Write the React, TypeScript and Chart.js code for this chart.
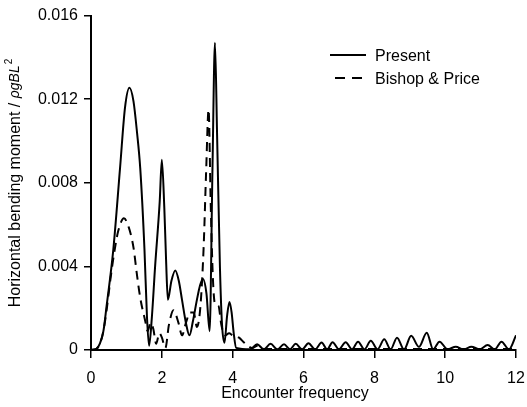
import React, { useEffect, useRef } from "react";
import { Chart, registerables } from "chart.js";

Chart.register(...registerables);

// ---- Data ----
const presentX = [
  0, 0.15, 0.25, 0.35, 0.44, 0.63, 0.82, 0.96, 1.085, 1.2, 1.3, 1.39, 1.51, 1.58, 1.64,
  1.72, 1.81, 1.94, 2.0, 2.07, 2.12, 2.17, 2.27, 2.38, 2.48, 2.57, 2.68, 2.78, 2.88, 2.99,
  3.08, 3.16, 3.26, 3.35, 3.43, 3.5, 3.56, 3.64, 3.7, 3.77, 3.84, 3.91, 3.97, 4.03, 4.1,
  4.5, 4.69, 4.88, 5.07, 5.26, 5.45, 5.62, 5.78, 5.96, 6.14, 6.33, 6.51, 6.67, 6.82, 7.0,
  7.19, 7.37, 7.54, 7.72, 7.9, 8.09, 8.28, 8.46, 8.64, 8.84, 9.04, 9.26, 9.48, 9.66, 9.84,
  10.07, 10.3, 10.52, 10.74, 10.97, 11.2, 11.4, 11.59, 11.8, 12.0,
];
const presentY = [
  0, 0.00005, 0.0003, 0.0009, 0.0021, 0.0048, 0.0087, 0.0116, 0.01255, 0.0119, 0.0104, 0.0087, 0.0048, 0.0016, 0.0002,
  0.0016, 0.004, 0.0071, 0.0091, 0.0068, 0.0043, 0.0024, 0.0033, 0.0038, 0.0033, 0.0024, 0.0013, 0.0007, 0.0014, 0.0024,
  0.0031, 0.0034, 0.0027, 0.0009, 0.0087, 0.0147, 0.0103, 0.004, 0.0012, 0.00035, 0.0016, 0.0023, 0.0018, 0.0008, 0.0001,
  0.00003, 0.00028, 0.00003, 0.0003, 0.00003, 0.00027, 0.00003, 0.0003, 0.00003, 0.00032, 0.00003, 0.00036, 0.00003, 0.00037, 0.00003,
  0.00037, 0.00003, 0.0004, 0.00003, 0.00044, 0.00003, 0.00051, 0.00003, 0.00059, 0.00003, 0.00068, 0.00015, 0.00082, 0.00003, 0.0004,
  0.00003, 0.00016, 0.00003, 0.00016, 0.00003, 0.00024, 0.00003, 0.0004, 0.00003, 0.0007,
];

const bishopX = [
  0, 0.15, 0.25, 0.35, 0.44, 0.55, 0.65, 0.77, 0.93, 1.06, 1.2, 1.29, 1.39, 1.53, 1.6,
  1.68, 1.76, 1.84, 1.93, 2.0, 2.1, 2.2, 2.33, 2.47, 2.57, 2.68, 2.8, 2.9, 2.99, 3.09,
  3.18, 3.25, 3.32, 3.38, 3.44, 3.5, 3.6, 3.68, 3.78, 3.9, 4.0, 4.17, 4.36, 4.55, 4.7,
  4.9, 6, 8, 10, 12,
];
const bishopY = [
  0, 0.00005, 0.0003, 0.0009, 0.0019, 0.0034, 0.0046, 0.0057, 0.0063, 0.0059, 0.0049, 0.0037, 0.0025, 0.0014, 0.0009,
  0.0013, 0.001, 0.0003, 0.0008, 0.0006, 0.0001, 0.0012, 0.0019, 0.0013, 0.0007, 0.0013, 0.0018, 0.0018, 0.0011, 0.0021,
  0.0049, 0.0085, 0.0115, 0.007, 0.0035, 0.0022, 0.0021, 0.0012, 0.0007, 0.0008, 0.0007, 0.0006, 0.0003, 0.0001, 0.0002,
  0.00005, 0.00005, 0.00005, 0.00005, 0.00005,
];

const seriesNames = ["Present", "Bishop & Price"];
const xTicks = [0, 2, 4, 6, 8, 10, 12];
const yTicks = [0, 0.004, 0.008, 0.012, 0.016];
const xTitle = "Encounter frequency";
const yTitleMain = "Horizontal bending moment / ";
const yTitleSym = "\u03C1gBL";
const yTitleSup = "2";

const FAMILY = "'Liberation Sans', Arial, Helvetica, sans-serif";

const toPoints = (xs: number[], ys: number[]) => xs.map((x, i) => ({ x, y: ys[i] }));

const annotPlugin = {
  id: "annot",
  afterDraw(chart: any) {
    const ctx: CanvasRenderingContext2D = chart.ctx;
    ctx.save();
    ctx.fillStyle = "#000";
    ctx.strokeStyle = "#000";

    // X axis title
    ctx.font = `16px ${FAMILY}`;
    ctx.textAlign = "center";
    ctx.textBaseline = "alphabetic";
    ctx.fillText(xTitle, 295, 398);

    // Y axis title (rotated, mixed styles)
    ctx.save();
    ctx.translate(20, 183);
    ctx.rotate(-Math.PI / 2);
    ctx.textBaseline = "alphabetic";
    ctx.textAlign = "left";
    const f1 = `16px ${FAMILY}`;
    const f2 = `italic 14px ${FAMILY}`;
    const f3 = `10px ${FAMILY}`;
    ctx.font = f1;
    const w1 = ctx.measureText(yTitleMain).width;
    ctx.font = f2;
    const w2 = ctx.measureText(yTitleSym).width;
    ctx.font = f3;
    const w3 = ctx.measureText(yTitleSup).width;
    let x = -(w1 + w2 + w3 + 1) / 2;
    ctx.font = f1;
    ctx.fillText(yTitleMain, x, 0);
    x += w1;
    ctx.font = f2;
    ctx.fillText(yTitleSym, x, -1);
    x += w2 + 1;
    ctx.font = f3;
    ctx.fillText(yTitleSup, x, -8);
    ctx.restore();

    // Legend
    ctx.font = `16px ${FAMILY}`;
    ctx.textBaseline = "alphabetic";
    ctx.textAlign = "left";
    ctx.lineWidth = 2;
    ctx.setLineDash([]);
    ctx.beginPath();
    ctx.moveTo(330, 55);
    ctx.lineTo(366, 55);
    ctx.stroke();
    ctx.fillText(seriesNames[0], 375, 61);
    ctx.setLineDash([10, 7]);
    ctx.beginPath();
    ctx.moveTo(335, 78);
    ctx.lineTo(362, 78);
    ctx.stroke();
    ctx.setLineDash([]);
    ctx.fillText(seriesNames[1], 375, 84);
    ctx.restore();
  },
};

export default function App() {
  const canvasRef = useRef<HTMLCanvasElement | null>(null);

  useEffect(() => {
    const canvas = canvasRef.current;
    if (!canvas) return;
    const chart = new Chart(canvas, {
      type: "line",
      data: {
        datasets: [
          {
            label: seriesNames[0],
            data: toPoints(presentX, presentY),
            borderColor: "#000",
            borderWidth: 2,
            pointRadius: 0,
            fill: false,
            cubicInterpolationMode: "monotone",
          },
          {
            label: seriesNames[1],
            data: toPoints(bishopX, bishopY),
            borderColor: "#000",
            borderWidth: 2,
            borderDash: [9, 6],
            pointRadius: 0,
            fill: false,
            cubicInterpolationMode: "monotone",
          },
        ],
      },
      options: {
        responsive: false,
        devicePixelRatio: 1,
        animation: false,
        layout: { padding: { left: 0, right: 0, top: 14, bottom: 0 } },
        plugins: {
          legend: { display: false },
          tooltip: { enabled: false },
        },
        scales: {
          x: {
            type: "linear",
            min: 0,
            max: 12,
            afterFit: (s: any) => {
              s.height = 57;
              s.paddingRight = 11;
              s.paddingLeft = 0;
            },
            afterBuildTicks: (s: any) => {
              s.ticks = xTicks.map((v) => ({ value: v }));
            },
            ticks: {
              color: "#000",
              font: { size: 16, family: FAMILY },
              padding: 11,
              maxRotation: 0,
              callback: (v: any) => String(v),
            },
            grid: {
              drawOnChartArea: false,
              drawTicks: true,
              tickLength: 8,
              color: "#000",
              lineWidth: 1.5,
            },
            border: { display: true, color: "#000", width: 2 },
            title: { display: false },
          },
          y: {
            type: "linear",
            min: 0,
            max: 0.016,
            afterFit: (s: any) => {
              s.width = 91;
            },
            afterBuildTicks: (s: any) => {
              s.ticks = yTicks.map((v) => ({ value: v }));
            },
            ticks: {
              color: "#000",
              font: { size: 16, family: FAMILY },
              padding: 6,
              callback: (v: any) => (Number(v) === 0 ? "0" : Number(v).toFixed(3)),
            },
            grid: {
              drawOnChartArea: false,
              drawTicks: true,
              tickLength: 7,
              color: "#000",
              lineWidth: 1.5,
            },
            border: { display: true, color: "#000", width: 2 },
            title: { display: false },
          },
        },
      },
      plugins: [annotPlugin],
    } as any);
    return () => chart.destroy();
  }, []);

  return (
    <div
      style={{
        position: "fixed",
        left: 0,
        top: 0,
        width: 527,
        height: 407,
        background: "#fff",
      }}
    >
      <canvas ref={canvasRef} width={527} height={407} style={{ display: "block" }} />
    </div>
  );
}
